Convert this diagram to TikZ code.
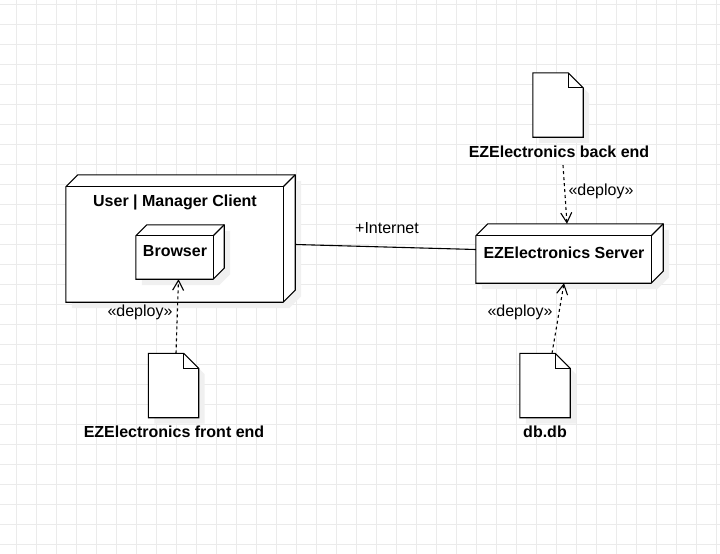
\documentclass[tikz,border=0pt]{standalone}
\usepackage{fontspec}
\setmainfont{Liberation Sans}
\usetikzlibrary{arrows.meta}
\begin{document}
\begin{tikzpicture}[x=1pt,y=-1pt,
  geom/.style={draw=none, inner sep=0pt},
  face/.style={draw=black, fill=white, line width=1.1pt, line join=miter},
  edge/.style={draw=black, line width=1.1pt},
  shadowc/.style={fill=black!6, draw=none},
  gridc/.style={draw=black!8, line width=1pt},
  boldlbl/.style={font=\fontsize{16}{19}\selectfont\bfseries, inner sep=0pt},
  reglbl/.style={font=\fontsize{16}{19}\selectfont, inner sep=0pt},
  dep/.style={draw=black, line width=1.1pt, dash pattern=on 3pt off 3pt, -{Straight Barb[length=10pt,width=11pt,line width=1.1pt]}}
]
\newcommand\drawcube[2]{%
  \fill[shadowc, transform canvas={shift={(6,6)}}] (#1.north west) -- ([shift={(#2,-#2)}]#1.north west) -- ([shift={(#2,-#2)}]#1.north east) -- ([shift={(#2,-#2)}]#1.south east) -- (#1.south east) -- (#1.south west) -- cycle;
  \filldraw[face] (#1.north west) -- ([shift={(#2,-#2)}]#1.north west) -- ([shift={(#2,-#2)}]#1.north east) -- ([shift={(#2,-#2)}]#1.south east) -- (#1.south east) -- (#1.south west) -- cycle;
  \draw[edge] (#1.north west) -- (#1.north east) -- (#1.south east);
  \draw[edge] (#1.north east) -- ([shift={(#2,-#2)}]#1.north east);
}
\newcommand\drawdoc[1]{%
  \fill[shadowc, transform canvas={shift={(6,6)}}] (#1.north west) -- ([xshift=-15pt]#1.north east) -- ([yshift=-15pt]#1.north east) -- (#1.south east) -- (#1.south west) -- cycle;
  \filldraw[face] (#1.north west) -- ([xshift=-15pt]#1.north east) -- ([yshift=-15pt]#1.north east) -- (#1.south east) -- (#1.south west) -- cycle;
  \draw[edge] ([xshift=-15pt]#1.north east) -- ([xshift=-15pt,yshift=-15pt]#1.north east) -- ([yshift=-15pt]#1.north east);
}
\useasboundingbox (0,0) rectangle (720,554);
\fill[white] (0,0) rectangle (720,554);
\foreach \gx in {16,36,...,716} \draw[gridc] (\gx,0) -- (\gx,554);
\foreach \gy in {4,24,...,544} \draw[gridc] (0,\gy) -- (720,\gy);

% geometry
\node[geom, minimum width=217pt, minimum height=115pt] (client) at (174.5,244.5) {};
\node[geom, minimum width=77pt, minimum height=43pt] (browser) at (174.5,257.5) {};
\node[geom, minimum width=175pt, minimum height=47pt] (server) at (563.5,259.5) {};
\node[geom, minimum width=50pt, minimum height=64pt] (bedoc) at (558,105) {};
\node[geom, minimum width=50pt, minimum height=64pt] (fedoc) at (173.5,385.5) {};
\node[geom, minimum width=50pt, minimum height=64pt] (dbdoc) at (545,385.5) {};

% shapes
\drawcube{client}{12}
\drawcube{browser}{11}
\drawcube{server}{12}
\drawdoc{bedoc}
\drawdoc{fedoc}
\drawdoc{dbdoc}

% texts
\node[boldlbl] (clientlbl) at (175,202) {User | Manager Client};
\node[boldlbl] (browserlbl) at (175,251.5) {Browser};
\node[boldlbl] (serverlbl) at (564,253) {EZElectronics Server};
\node[boldlbl] (belbl) at (559,152) {EZElectronics back end};
\node[boldlbl] (felbl) at (174,432) {EZElectronics front end};
\node[boldlbl] (dblbl) at (545,432) {db.db};

% connectors
\draw[edge] ([xshift=12pt]client.east) -- ([yshift=10pt]server.west);
\node[reglbl] (inetlbl) at (387,228) {+Internet};

\draw[dep] ([xshift=2.5pt]fedoc.north) -- ([xshift=4pt]browser.south);
\node[reglbl] (dep1) at (140,312) {«deploy»};

\draw[dep] ([xshift=4pt,yshift=-7pt]belbl.south) -- ([xshift=3.5pt,yshift=12pt]server.north);
\node[reglbl] (dep2) at (601,191) {«deploy»};

\draw[dep] ([xshift=7pt]dbdoc.north) -- ([xshift=0.5pt]server.south);
\node[reglbl] (dep3) at (520,312) {«deploy»};
\end{tikzpicture}
\end{document}
